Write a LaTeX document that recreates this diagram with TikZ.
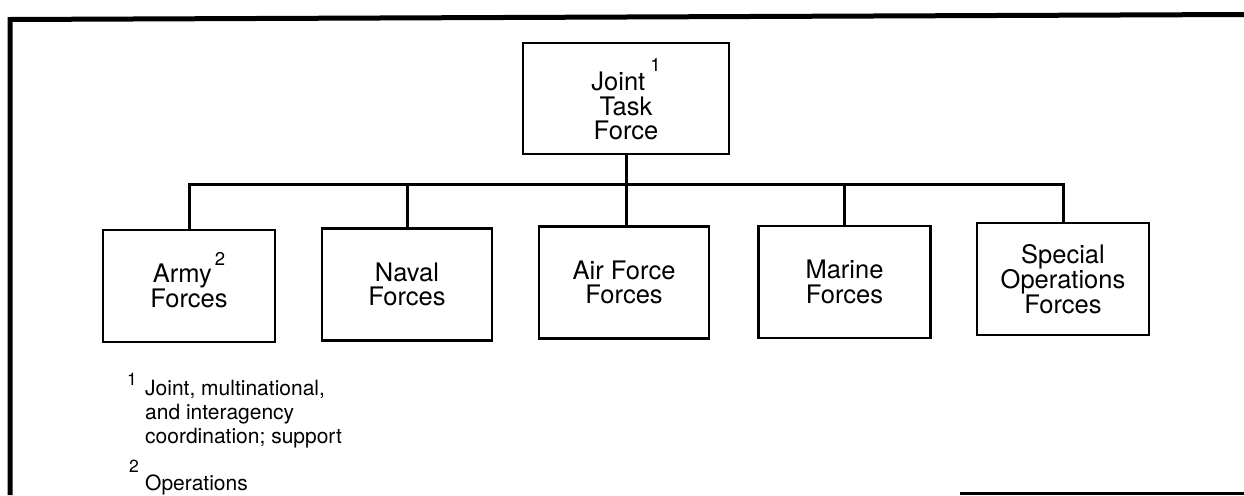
\documentclass[tikz,border=0pt]{standalone}
\usepackage{fontspec}
\setmainfont{TeX Gyre Heros}
\newcommand\upmark[3]{\hspace{#1}\smash{\raisebox{#2}{\fontsize{18.5}{18.5}\selectfont #3}}}
\begin{document}
\begin{tikzpicture}[x=1pt,y=1pt,
  unit/.style={draw, line width=2.6pt, minimum width=172pt, minimum height=112pt,
    inner sep=0pt, align=center, font=\fontsize{25.5}{24.5}\selectfont},
  conn/.style={line width=3pt, line join=miter},
  frameline/.style={line width=5pt, line join=miter},
  note/.style={align=left, anchor=base west, inner sep=0pt, font=\fontsize{21}{24}\selectfont},
  fnmark/.style={anchor=base west, inner sep=0pt, font=\fontsize{17.5}{17.5}\selectfont}]
\useasboundingbox (0,0) rectangle (1244,-495);
% frame
\draw[frameline] (10,-495) -- (10,-19.5) -- (1244,-14.5);
\draw[line width=3.5pt] (960,-493.5) -- (1244,-493.5);
% boxes
\node[unit, minimum width=206pt, minimum height=111pt] (jtf) at (626,-98.5)
  {\rule{0pt}{34pt}Joint\upmark{5pt}{19pt}{1}\\Task\\Force};
\node[unit] (army) at (189,-286) {Army\upmark{3pt}{17pt}{2}\\Forces};
\node[unit, minimum width=170pt] (naval) at (407,-284.5) {Naval\\Forces};
\node[unit, minimum width=170pt] (air) at (624,-282.5) {Air Force\\Forces};
\node[unit] (marine) at (844.5,-282) {Marine\\Forces};
\node[unit] (sof) at (1063,-279) {Special\\Operations\\Forces};
% connectors
\coordinate (bus) at (0,-184);
\draw[conn] (jtf.south) -- (jtf.south |- air.north);
\draw[conn] (army.north) -- (army.north |- bus) -| (sof.north);
\draw[conn] (naval.north) -- (naval.north |- bus);
\draw[conn] (marine.north) -- (marine.north |- bus);
% footnotes
\node[fnmark] (n1) at (127,-385) {1};
\node[note] (n1t) at (145,-443) {Joint, multinational,\\and interagency\\coordination; support};
\node[fnmark] (n2) at (129,-472) {2};
\node[note] (n2t) at (145,-490) {Operations};
\end{tikzpicture}
\end{document}
